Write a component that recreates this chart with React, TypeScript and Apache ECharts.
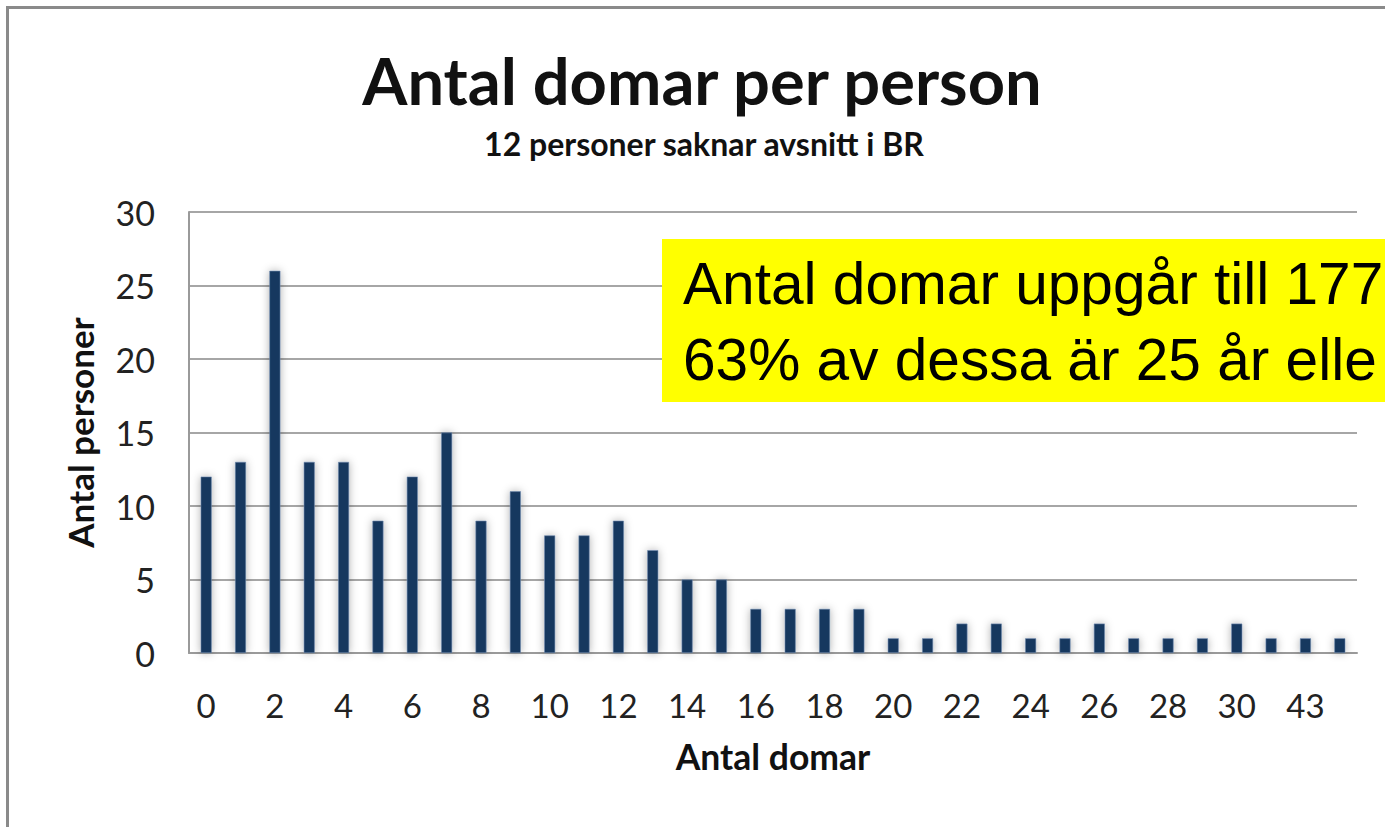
import React, { useEffect, useRef } from "react";
import * as echarts from "echarts";

const categories = [
  "0", "1", "2", "3", "4", "5", "6", "7", "8", "9", "10", "11", "12", "13", "14", "15", "16",
  "17", "18", "19", "20", "21", "22", "23", "24", "25", "26", "27", "28", "29", "30", "35", "43", "57",
];
const personCounts = [
  12, 13, 26, 13, 13, 9, 12, 15, 9, 11, 8, 8, 9, 7, 5, 5, 3, 3, 3, 3, 1, 1, 2, 2, 1, 1, 2, 1, 1, 1, 2, 1, 1, 1,
];
const titleText = "Antal domar per person";
const subtitleText = "12 personer saknar avsnitt i BR";
const xAxisName = "Antal domar";
const yAxisName = "Antal personer";
const noteLines = ["Antal domar uppgår till 177", "63% av dessa är 25 år elle"];

const CAL = "Lato, 'Open Sans', sans-serif";

export default function App() {
  const ref = useRef<HTMLDivElement>(null);
  useEffect(() => {
    if (!ref.current) return;
    const chart = echarts.init(ref.current, undefined, { renderer: "svg" });
    chart.setOption({
      animation: false,
      backgroundColor: "#ffffff",
      grid: {
        left: 189,
        right: 28,
        top: 212,
        bottom: 174,
        containLabel: false,
        outerBoundsMode: "none",
      },
      xAxis: {
        type: "category",
        data: categories,
        boundaryGap: true,
        axisLine: { show: true, lineStyle: { color: "#9a9a9a", width: 2 } },
        axisTick: { show: false },
        axisLabel: {
          interval: 1,
          fontFamily: CAL,
          fontSize: 33,
          color: "#222222",
          margin: 35,
        },
        name: xAxisName,
        nameLocation: "middle",
        nameGap: 85,
        nameTextStyle: { fontFamily: CAL, fontWeight: "bold", fontSize: 35.5, color: "#111111" },
      },
      yAxis: {
        type: "value",
        min: 0,
        max: 30,
        interval: 5,
        axisLine: { show: true, lineStyle: { color: "#9a9a9a", width: 2 } },
        axisTick: { show: false },
        splitLine: { show: true, lineStyle: { color: "#a6a6a6", width: 2 } },
        axisLabel: {
          fontFamily: CAL,
          fontSize: 34,
          color: "#222222",
          margin: 34,
        },
        name: yAxisName,
        nameLocation: "middle",
        nameRotate: 90,
        nameGap: 92,
        nameTextStyle: { fontFamily: CAL, fontWeight: "bold", fontSize: 35, color: "#111111" },
      },
      series: [
        {
          type: "bar",
          data: personCounts,
          barWidth: 11,
          itemStyle: {
            color: "#17375e",
            borderColor: "#6f89ad",
            borderWidth: 0.6,
            shadowBlur: 8,
            shadowColor: "rgba(0,0,0,0.32)",
            shadowOffsetX: 0,
            shadowOffsetY: 0,
          },
        },
      ],
      graphic: [
        {
          type: "rect",
          shape: { x: 7.5, y: 7.5, width: 1500, height: 1000 },
          style: { fill: "none", stroke: "#8a8a8a", lineWidth: 3 },
          silent: true,
        },
        {
          type: "text",
          x: 702,
          y: 80,
          style: {
            text: titleText,
            font: `bold 65px ${CAL}`,
            fill: "#111111",
            align: "center",
            verticalAlign: "middle",
          },
        },
        {
          type: "text",
          x: 704,
          y: 143,
          style: {
            text: subtitleText,
            font: `bold 32px ${CAL}`,
            fill: "#111111",
            align: "center",
            verticalAlign: "middle",
          },
        },
        {
          type: "rect",
          shape: { x: 662, y: 239, width: 800, height: 163 },
          style: { fill: "#ffff00" },
          z: 100,
        },
        {
          type: "text",
          x: 683,
          y: 283,
          z: 101,
          style: {
            text: noteLines[0],
            font: "58.6px 'Liberation Sans', Arial, sans-serif",
            fill: "#000000",
            align: "left",
            verticalAlign: "middle",
          },
        },
        {
          type: "text",
          x: 683,
          y: 359,
          z: 101,
          style: {
            text: noteLines[1],
            font: "58.6px 'Liberation Sans', Arial, sans-serif",
            fill: "#000000",
            align: "left",
            verticalAlign: "middle",
          },
        },
      ],
    });
    return () => chart.dispose();
  }, []);
  return (
    <div
      ref={ref}
      style={{ position: "absolute", left: 0, top: 0, width: 1385, height: 827 }}
    />
  );
}
